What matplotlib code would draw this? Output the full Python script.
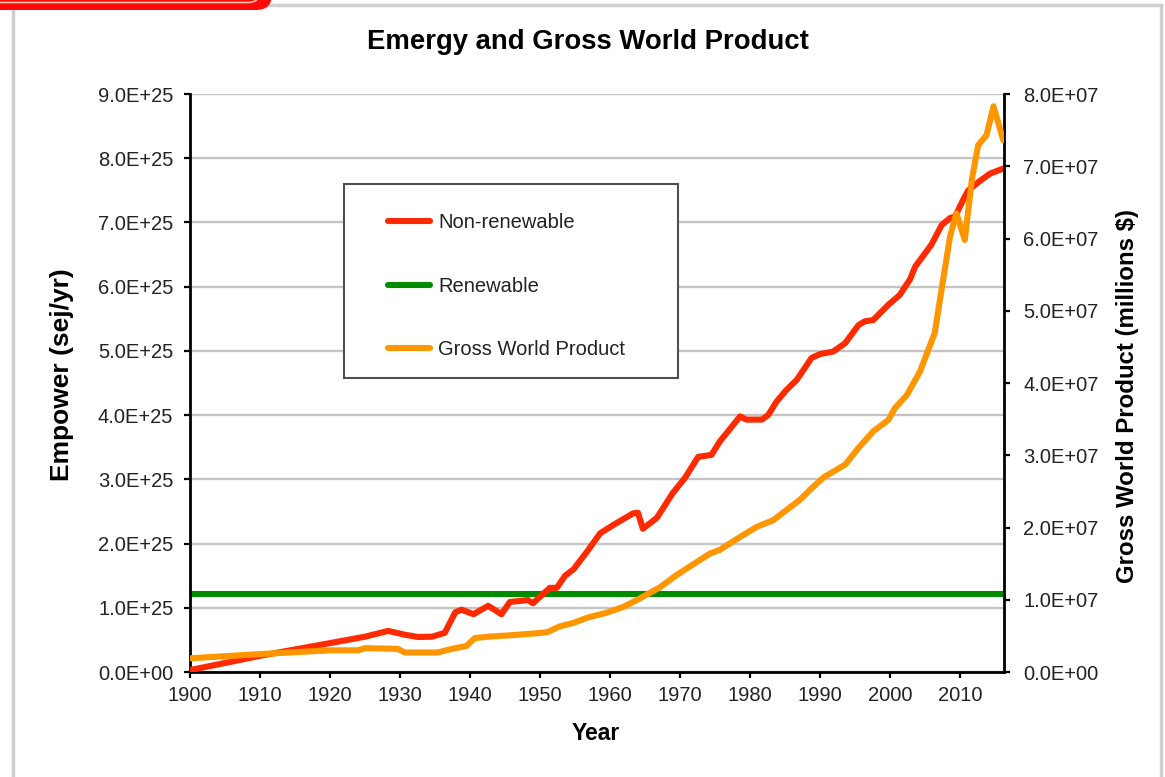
import matplotlib
matplotlib.use("Agg")
import matplotlib.pyplot as plt
from matplotlib.lines import Line2D
from matplotlib.patches import Rectangle, Shadow, FancyBboxPatch
from matplotlib.ticker import FuncFormatter, MultipleLocator

plt.rcParams["font.family"] = ["Liberation Sans", "DejaVu Sans"]

# Non-renewable empower (units of 1E25 sej/yr)
nonrenew_years = [1900, 1910.4, 1920, 1925, 1928.3, 1930.7, 1932.6, 1934.6, 1936.4,
                  1937.9, 1938.8, 1940.5, 1942.6, 1944.5, 1945.7, 1948.3, 1949,
                  1951.4, 1952.4, 1953.6, 1954.8, 1956.7, 1958.6, 1960.5, 1963.3,
                  1964, 1964.7, 1966.7, 1969, 1970.7, 1972.6, 1974.5, 1975.7,
                  1978.6, 1979.5, 1981.7, 1982.6, 1983.8, 1985.2, 1986.7, 1988.8,
                  1990, 1991.9, 1993.6, 1995.5, 1996.4, 1997.6, 1999.8, 2001.4,
                  2002.9, 2003.6, 2005.9, 2007.4, 2008.6, 2009.3, 2010.5, 2011.2,
                  2012.9, 2014.3, 2016.2]
nonrenew_vals = [0.03, 0.26, 0.45, 0.55, 0.64, 0.58, 0.545, 0.55, 0.61,
                 0.93, 0.97, 0.90, 1.03, 0.90, 1.09, 1.12, 1.07,
                 1.31, 1.31, 1.50, 1.60, 1.87, 2.16, 2.29, 2.47,
                 2.48, 2.23, 2.40, 2.79, 3.02, 3.35, 3.38, 3.59,
                 3.98, 3.93, 3.93, 4.00, 4.21, 4.39, 4.55, 4.89,
                 4.95, 4.99, 5.12, 5.40, 5.46, 5.48, 5.72, 5.87,
                 6.12, 6.31, 6.65, 6.96, 7.07, 7.09, 7.36, 7.50,
                 7.65, 7.76, 7.84]

# Renewable empower (units of 1E25 sej/yr)
renew_years = [1900, 2016.2]
renew_vals = [1.21, 1.21]

# Gross World Product (units of 1E7 millions $)
gwp_years = [1900, 1910.4, 1920, 1924, 1925, 1929.7, 1930.7, 1935.4, 1937.4,
             1939.5, 1940.7, 1942.8, 1946.1, 1950, 1951, 1952.8, 1954.8, 1956.7,
             1959.5, 1961.9, 1964.3, 1967.1, 1969.5, 1971.4, 1974.3, 1975.7,
             1978.6, 1981, 1983.3, 1985.2, 1987.1, 1989, 1990.6, 1991.5, 1993.6,
             1995.5, 1997.6, 1999.8, 2000.7, 2002.4, 2004.3, 2006.4, 2007.6,
             2008.6, 2009.5, 2010.7, 2011.7, 2012.6, 2013.8, 2014.8, 2016.2]
gwp_vals = [0.19, 0.25, 0.30, 0.30, 0.33, 0.32, 0.27, 0.27, 0.32,
            0.36, 0.47, 0.49, 0.51, 0.54, 0.55, 0.63, 0.68, 0.75,
            0.82, 0.90, 1.02, 1.17, 1.34, 1.46, 1.64, 1.69,
            1.87, 2.01, 2.10, 2.24, 2.38, 2.56, 2.70, 2.75, 2.87,
            3.10, 3.33, 3.49, 3.65, 3.83, 4.16, 4.69, 5.43,
            6.03, 6.35, 5.98, 6.81, 7.29, 7.43, 7.83, 7.36]

x_ticks = list(range(1900, 2011, 10))
labels = ["Non-renewable", "Renewable", "Gross World Product"]

RED = "#ff2a00"
GREEN = "#008c00"
ORANGE = "#ff9600"
W, H = 1165, 777

fig = plt.figure(figsize=(W / 100, H / 100), dpi=100)
fig.patch.set_facecolor("white")

ax = fig.add_axes([190 / W, 1 - 672 / H, 814 / W, 578 / H])
ax2 = ax.twinx()

lw = 4.4
kw = dict(lw=lw, solid_joinstyle="round", solid_capstyle="round")
ax.plot(nonrenew_years, [v * 1e25 for v in nonrenew_vals], color=RED, zorder=3, **kw)
ax.plot(renew_years, [v * 1e25 for v in renew_vals], color=GREEN, zorder=2,
        lw=lw, solid_capstyle="butt")
ax2.plot(gwp_years, [v * 1e7 for v in gwp_vals], color=ORANGE, zorder=3, **kw)

ax.set_xlim(1900, 2016.3)
ax.set_ylim(0, 9e25)
ax2.set_ylim(0, 8e7)
ax.set_xticks(x_ticks)
ax.yaxis.set_major_locator(MultipleLocator(1e25))
ax2.yaxis.set_major_locator(MultipleLocator(1e7))
sci = FuncFormatter(lambda v, p: f"{v:.1E}")
ax.yaxis.set_major_formatter(sci)
ax2.yaxis.set_major_formatter(sci)

ax.set_axisbelow(True)
ax.yaxis.grid(True, color="#c4c4c4", lw=1.7)

for a in (ax, ax2):
    for s in a.spines.values():
        s.set_visible(False)
ax.spines["left"].set_visible(True)
ax.spines["bottom"].set_visible(True)
ax2.spines["right"].set_visible(True)
for s in (ax.spines["left"], ax.spines["bottom"], ax2.spines["right"]):
    s.set_linewidth(2)
    s.set_color("black")

tick_font = 14.5
ax.tick_params(axis="y", direction="out", length=4, width=1.6, pad=8,
               labelsize=tick_font, labelcolor="#222222")
ax.tick_params(axis="x", direction="out", length=4, width=1.6, pad=6,
               labelsize=tick_font, labelcolor="#222222")
ax2.tick_params(axis="y", direction="out", length=4, width=1.6, pad=10,
                labelsize=tick_font, labelcolor="#222222")

ax.set_xlabel("Year", fontsize=16.5, fontweight="bold")
ax.xaxis.set_label_coords((596 - 190) / 814, (672 - 733) / 578)
ax.xaxis.label.set_verticalalignment("center")
ax.set_ylabel("Empower (sej/yr)", fontsize=19, fontweight="bold")
ax.yaxis.set_label_coords((62 - 190) / 814, (672 - 375) / 578)
ax.yaxis.label.set_verticalalignment("center")
ax.yaxis.label.set_horizontalalignment("center")
ax2.set_ylabel("Gross World Product (millions $)", fontsize=17.3, fontweight="bold")
ax2.yaxis.set_label_coords((1128 - 190) / 814, (672 - 396) / 578)
ax2.yaxis.label.set_verticalalignment("center")
ax2.yaxis.label.set_horizontalalignment("center")

fig.text(588 / W, 1 - 42 / H, "Emergy and Gross World Product",
         fontsize=19.8, fontweight="bold", ha="center", va="center")

# legend box with drop shadow
frame = Rectangle((344 / W, 1 - 378 / H), (678 - 344) / W, (378 - 184) / H,
                  transform=fig.transFigure, facecolor="white",
                  edgecolor="#505050", lw=1.5, zorder=6)
shadow = Shadow(frame, 2.5, -2.5)
shadow.set_zorder(5)
shadow.set_facecolor("#9a9a9a")
shadow.set_alpha(0.6)
fig.add_artist(shadow)
fig.add_artist(frame)

handles = [Line2D([], [], color=c, lw=lw, solid_capstyle="round")
           for c in (RED, GREEN, ORANGE)]
leg = fig.legend(handles, labels, loc="upper left",
                 bbox_to_anchor=(388 / W, 1 - 213 / H), bbox_transform=fig.transFigure,
                 frameon=False, borderpad=0, fontsize=14.5, handlelength=2.1,
                 handletextpad=0.4, labelspacing=2.22, borderaxespad=0)
leg.set_zorder(8)
for t in leg.get_texts():
    t.set_color("#222222")

# outer page frame
frame_kw = dict(color="#cfcfcf", lw=2.5, transform=None, zorder=1)
fig.add_artist(Line2D([13, 13], [0, H - 8], **frame_kw))
fig.add_artist(Line2D([262, 1161], [H - 5, H - 5], **frame_kw))
fig.add_artist(Line2D([1161, 1161], [0, H - 5], **frame_kw))

# red highlight tab at the top-left corner
tab = FancyBboxPatch((-40, H - 10), 312, 60, boxstyle="round,pad=0,rounding_size=16",
                     transform=None, facecolor="#ff0a0a", edgecolor="none", zorder=2)
fig.add_artist(tab)
inner = FancyBboxPatch((-40, H - 2.5), 300, 60, boxstyle="round,pad=0,rounding_size=12",
                       transform=None, facecolor="#ff0a0a", edgecolor="#ffc8a0",
                       lw=1.2, zorder=3)
fig.add_artist(inner)

fig.savefig("out.png", dpi=100)
